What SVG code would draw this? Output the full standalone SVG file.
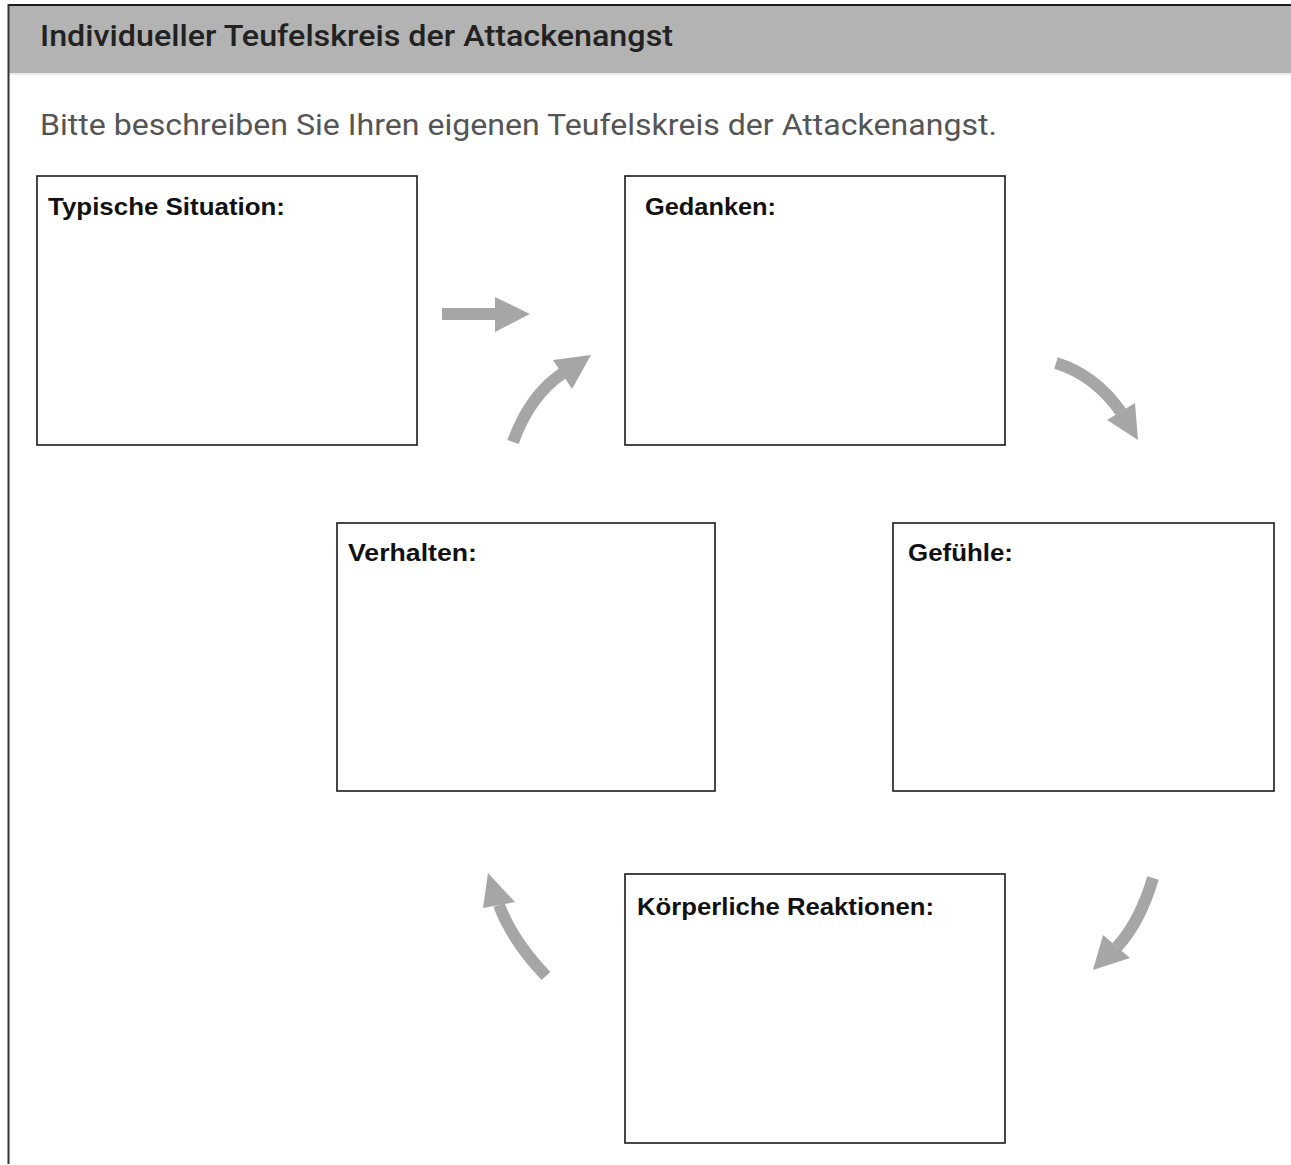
<svg xmlns="http://www.w3.org/2000/svg" width="1291" height="1165" viewBox="0 0 1291 1165">
<style>
.box{fill:#fff;stroke:#1a1a1a;stroke-width:1.6}
.lbl{font-family:"Liberation Sans",Arial,sans-serif;font-weight:bold;font-size:24px;fill:#111}
.shaft{fill:none;stroke:#a6a6a6;stroke-width:12}
.head{fill:#a6a6a6}
</style>
<rect x="0" y="0" width="1291" height="1165" fill="#fff"/>
<g id="frame">
<rect x="9" y="6" width="1282" height="67" fill="#b3b3b3"/>
<line x1="9" y1="74" x2="1291" y2="74" stroke="#e4e4e4" stroke-width="1.5"/>
<line x1="8" y1="5" x2="1291" y2="5" stroke="#1a1a1a" stroke-width="2"/>
<line x1="8.5" y1="4" x2="8.5" y2="1164" stroke="#333" stroke-width="2"/>
<text x="40" y="46" font-family="Roboto,'Liberation Sans',sans-serif" font-weight="500" font-size="29" fill="#222" textLength="633" lengthAdjust="spacingAndGlyphs">Individueller Teufelskreis der Attackenangst</text>
<text x="40" y="135" font-family="Roboto,'Liberation Sans',sans-serif" font-size="30" fill="#555" textLength="957" lengthAdjust="spacingAndGlyphs">Bitte beschreiben Sie Ihren eigenen Teufelskreis der Attackenangst.</text>
</g>
<g id="node-situation">
<rect class="box" x="37" y="176" width="380" height="269"/>
<text class="lbl" x="48" y="215" textLength="237" lengthAdjust="spacingAndGlyphs">Typische Situation:</text>
</g>
<g id="node-gedanken">
<rect class="box" x="625" y="176" width="380" height="269"/>
<text class="lbl" x="645" y="215" textLength="131" lengthAdjust="spacingAndGlyphs">Gedanken:</text>
</g>
<g id="node-verhalten">
<rect class="box" x="337" y="523" width="378" height="268"/>
<text class="lbl" x="348" y="561" textLength="129" lengthAdjust="spacingAndGlyphs">Verhalten:</text>
</g>
<g id="node-gefuehle">
<rect class="box" x="893" y="523" width="381" height="268"/>
<text class="lbl" x="908" y="561" textLength="105" lengthAdjust="spacingAndGlyphs">Gefühle:</text>
</g>
<g id="node-koerper">
<rect class="box" x="625" y="874" width="380" height="269"/>
<text class="lbl" x="637" y="915" textLength="297" lengthAdjust="spacingAndGlyphs">Körperliche Reaktionen:</text>
</g>
<g id="connectors">
<rect class="head" x="442" y="308" width="55" height="12"/>
<polygon class="head" points="495,297 530,314 495,332"/>
<path class="shaft" d="M513,442 Q530,395 563,373"/>
<polygon class="head" points="553,360 591,355 572,389"/>
<path class="shaft" d="M1056,363 Q1095,375 1121,412"/>
<polygon class="head" points="1107,420 1138,440 1135,403"/>
<path class="shaft" d="M1153,878 Q1140,922 1117,947"/>
<polygon class="head" points="1103,935 1093,970 1130,958"/>
<path class="shaft" d="M546,976 Q512,940 499,905"/>
<polygon class="head" points="488,873 483,908 515,902"/>
</g>
</svg>
